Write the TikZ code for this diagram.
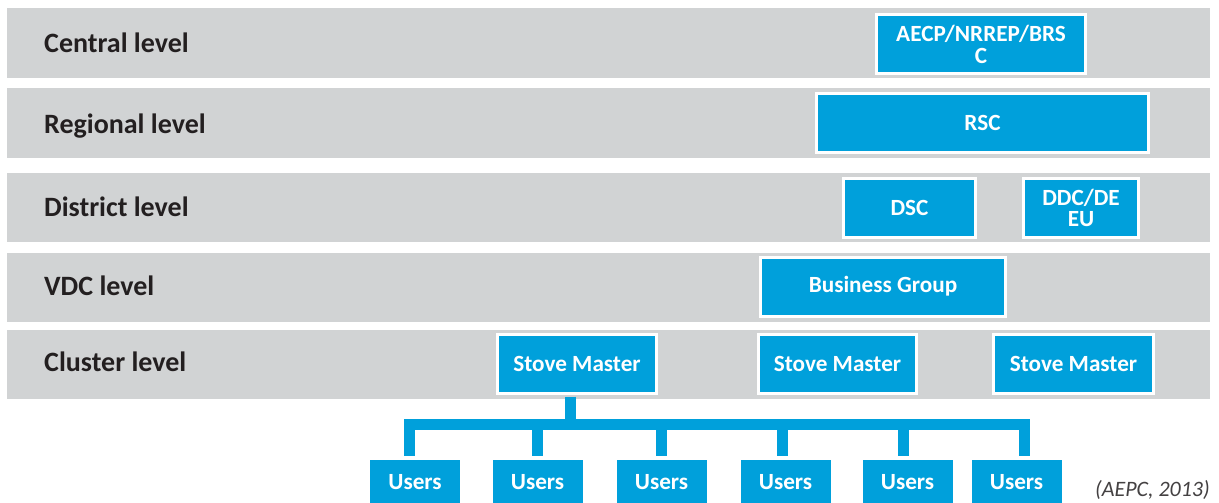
\documentclass[tikz,border=0pt]{standalone}
\usepackage{fontspec}
\setmainfont{Carlito}
\usepackage{xcolor}
\usepackage{tikz}
\usetikzlibrary{positioning,calc}
\definecolor{bandgray}{RGB}{209,211,212}
\definecolor{boxblue}{RGB}{0,160,219}
\definecolor{labeltext}{RGB}{35,31,32}

\begin{document}
\begin{tikzpicture}[
  x=1pt, y=-1pt,
  band/.style={fill=bandgray},
  level/.style={anchor=base west, inner sep=0pt, text=labeltext, font=\fontsize{28}{32}\selectfont\bfseries},
  unit/.style={draw=white, line width=3pt, fill=boxblue, text=white, align=center, inner sep=2pt, minimum height=59pt, font=\fontsize{23.2}{21.5}\selectfont\bfseries},
  user/.style={unit, minimum width=93pt, minimum height=47pt},
  conn/.style={draw=boxblue, line width=11pt}
]
  \useasboundingbox (0,0) rectangle (1219,503);

  % Level bands
  \fill[band] (7,8) rectangle (1210,78);
  \fill[band] (7,88) rectangle (1210,158);
  \fill[band] (7,173) rectangle (1210,242);
  \fill[band] (7,253) rectangle (1210,322);
  \fill[band] (7,330) rectangle (1210,399);

  \node[level] (central) at (44,53) {Central level};
  \node[level] (regional) at (44,133) {Regional level};
  \node[level] (district) at (44,216) {District level};
  \node[level] (vdc) at (44,295) {VDC level};
  \node[level] (cluster) at (44,371) {Cluster level};

  % Organisations per level
  \node[unit, minimum width=209pt] (aecp) at (981,44.5) {AECP/NRREP/BRS\\C};
  \node[unit, minimum width=332pt] (rsc) at (982.5,123) {RSC};
  \node[unit, minimum width=132pt] (dsc) at (909.5,208) {DSC};
  \node[unit, minimum width=115pt] (ddc) at (1081,208) {DDC/DE\\EU};
  \node[unit, minimum width=245pt] (bgroup) at (883,286.5) {Business Group};

  \node[unit, minimum width=159pt] (sm1) at (577,364) {Stove Master};
  \node[unit, minimum width=158pt] (sm2) at (837.5,364) {Stove Master};
  \node[unit, minimum width=160pt] (sm3) at (1073.5,364) {Stove Master};

  % Users under the first stove master
  \node[user] (u1) at (415,482) {Users};
  \node[user] (u2) at (537.5,482) {Users};
  \node[user] (u3) at (661.5,482) {Users};
  \node[user] (u4) at (785.5,482) {Users};
  \node[user] (u5) at (907.5,482) {Users};
  \node[user] (u6) at (1016.5,482) {Users};

  \coordinate (hub) at (570,424);
  \draw[conn, shorten <=1.5pt] (hub |- sm1.south) -- (hub);
  \draw[conn, shorten >=1.5pt] (hub) -| ([xshift=-6pt]u1.north);
  \draw[conn, shorten >=1.5pt] (hub) -| (u2.north);
  \draw[conn, shorten >=1.5pt] (hub) -| (u3.north);
  \draw[conn, shorten >=1.5pt] (hub) -| ([xshift=-3pt]u4.north);
  \draw[conn, shorten >=1.5pt] (hub) -| ([xshift=-4pt]u5.north);
  \draw[conn, shorten >=1.5pt] (hub) -| ([xshift=8pt]u6.north);

  \node[anchor=base east, inner sep=0pt, text=labeltext!85, font=\fontsize{22}{24}\selectfont\itshape] (source) at (1210,496) {(AEPC, 2013)};
\end{tikzpicture}
\end{document}
